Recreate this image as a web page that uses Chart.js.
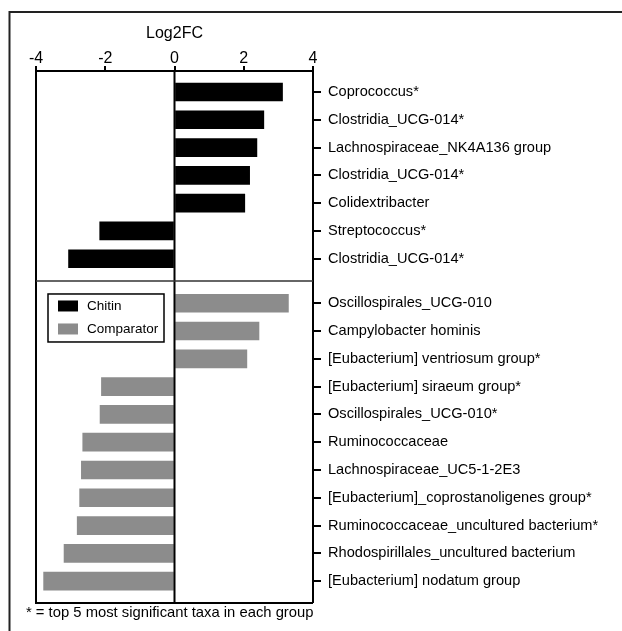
<!DOCTYPE html>
<html><head><meta charset="utf-8">
<script src="https://cdn.jsdelivr.net/npm/chart.js@4/dist/chart.umd.min.js"></script>
<style>html,body{margin:0;padding:0;background:#fff;}canvas{display:block}</style>
</head><body><canvas id="c" width="622" height="631"></canvas>
<script>
const chitinTaxa = ['Coprococcus*','Clostridia_UCG-014*','Lachnospiraceae_NK4A136 group','Clostridia_UCG-014*','Colidextribacter','Streptococcus*','Clostridia_UCG-014*'];
const chitinLog2FC = [3.12, 2.58, 2.38, 2.17, 2.03, -2.16, -3.06];
const comparatorTaxa = ['Oscillospirales_UCG-010','Campylobacter hominis','[Eubacterium] ventriosum group*','[Eubacterium] siraeum group*','Oscillospirales_UCG-010*','Ruminococcaceae','Lachnospiraceae_UC5-1-2E3','[Eubacterium]_coprostanoligenes group*','Ruminococcaceae_uncultured bacterium*','Rhodospirillales_uncultured bacterium','[Eubacterium] nodatum group'];
const comparatorLog2FC = [3.29, 2.44, 2.09, -2.11, -2.15, -2.65, -2.69, -2.74, -2.81, -3.19, -3.78];
const xTickValues = [-4, -2, 0, 2, 4];
const seriesNames = ['Chitin', 'Comparator'];
const axisTitle = 'Log2FC';
const footnote = '* = top 5 most significant taxa in each group';

const GAP = 1.6;
const chitinPos = chitinTaxa.map((_, i) => i);
const compPos = comparatorTaxa.map((_, i) => chitinTaxa.length - 1 + GAP + i);
const allPos = chitinPos.concat(compPos);
const allLabels = chitinTaxa.concat(comparatorTaxa);
const dividerPos = (chitinPos[chitinPos.length - 1] + compPos[0]) / 2;
const FONT = "'Liberation Sans', Arial, sans-serif";
const COLORS = ['#000000', '#8c8c8c'];
const TEXT = '#000';

const decor = {
  id: 'decor',
  beforeDraw(chart) {
    const c = chart.ctx; c.save(); c.fillStyle = '#fff'; c.fillRect(0, 0, chart.width, chart.height); c.restore();
  },
  afterDatasetsDraw(chart) {
    const c = chart.ctx, a = chart.chartArea, xs = chart.scales.x, ys = chart.scales.y;
    c.save();
    c.strokeStyle = '#000'; c.lineWidth = 2;
    const x0 = xs.getPixelForValue(0);
    c.beginPath(); c.moveTo(x0, a.top); c.lineTo(x0, a.bottom); c.stroke();
    c.beginPath(); c.moveTo(a.left, a.top - 1); c.lineTo(a.left, a.bottom + 1); c.lineTo(a.right, a.bottom + 1); c.stroke();
    c.strokeStyle = '#333'; c.lineWidth = 1.5;
    const yd = ys.getPixelForValue(dividerPos);
    c.beginPath(); c.moveTo(a.left, yd); c.lineTo(a.right, yd); c.stroke();
    // legend
    const lx = a.left + 12, ly = yd + 13, lw = 116, lh = 48;
    c.fillStyle = '#fff'; c.fillRect(lx, ly, lw, lh);
    c.strokeStyle = '#000'; c.lineWidth = 1.5; c.strokeRect(lx, ly, lw, lh);
    c.font = '13.5px ' + FONT; c.textBaseline = 'middle'; c.textAlign = 'left';
    chart.data.datasets.forEach((ds, i) => {
      const cy = ly + 12 + i * 23;
      c.fillStyle = ds.backgroundColor; c.fillRect(lx + 10, cy - 5.5, 20, 11);
      c.fillStyle = TEXT; c.fillText(ds.label, lx + 39, cy);
    });
    // footnote
    c.font = '14.8px ' + FONT; c.fillStyle = TEXT; c.textBaseline = 'middle';
    c.fillText(footnote, 26, 613);
    // outer frame
    c.strokeStyle = '#222'; c.lineWidth = 2;
    c.beginPath(); c.moveTo(chart.width, 12); c.lineTo(9.5, 12); c.lineTo(9.5, chart.height); c.stroke();
    c.restore();
  }
};

new Chart(document.getElementById('c'), {
  type: 'bar',
  data: {
    datasets: [
      { label: seriesNames[0], data: chitinLog2FC.map((v, i) => ({ x: v, y: chitinPos[i] })), backgroundColor: COLORS[0] },
      { label: seriesNames[1], data: comparatorLog2FC.map((v, i) => ({ x: v, y: compPos[i] })), backgroundColor: COLORS[1] }
    ]
  },
  options: {
    indexAxis: 'y',
    responsive: false,
    animation: false,
    datasets: { bar: { grouped: false, barThickness: 18, borderWidth: 0 } },
    layout: { padding: { left: 36, top: 0, right: 0, bottom: 29 } },
    plugins: { legend: { display: false }, tooltip: { enabled: false } },
    scales: {
      x: {
        type: 'linear', position: 'top', min: -4, max: 4,
        afterBuildTicks: s => { s.ticks = xTickValues.map(v => ({ value: v })); },
        ticks: { font: { family: FONT, size: 16 }, color: TEXT, padding: -2 },
        grid: { drawOnChartArea: false, drawTicks: true, tickLength: 5, color: '#000', lineWidth: 2 },
        border: { display: true, color: '#000', width: 2 },
        title: { display: true, text: axisTitle, font: { family: FONT, size: 16 }, color: TEXT, padding: { top: 24, bottom: 0 } },
        afterFit: s => { s.height = 71; }
      },
      y: {
        type: 'linear', position: 'right', reverse: true, offset: false,
        min: -0.755, max: 18.35,
        afterBuildTicks: s => { s.ticks = allPos.map(v => ({ value: v })); },
        ticks: { autoSkip: false, callback: (v, i) => allLabels[i], font: { family: FONT, size: 14.6 }, color: TEXT, padding: 7 },
        grid: { drawOnChartArea: false, offset: false, tickLength: 8, color: '#000', lineWidth: 2 },
        border: { display: true, color: '#000', width: 2 },
        afterFit: s => { s.width = 309; }
      }
    }
  },
  plugins: [decor]
});
</script></body></html>
